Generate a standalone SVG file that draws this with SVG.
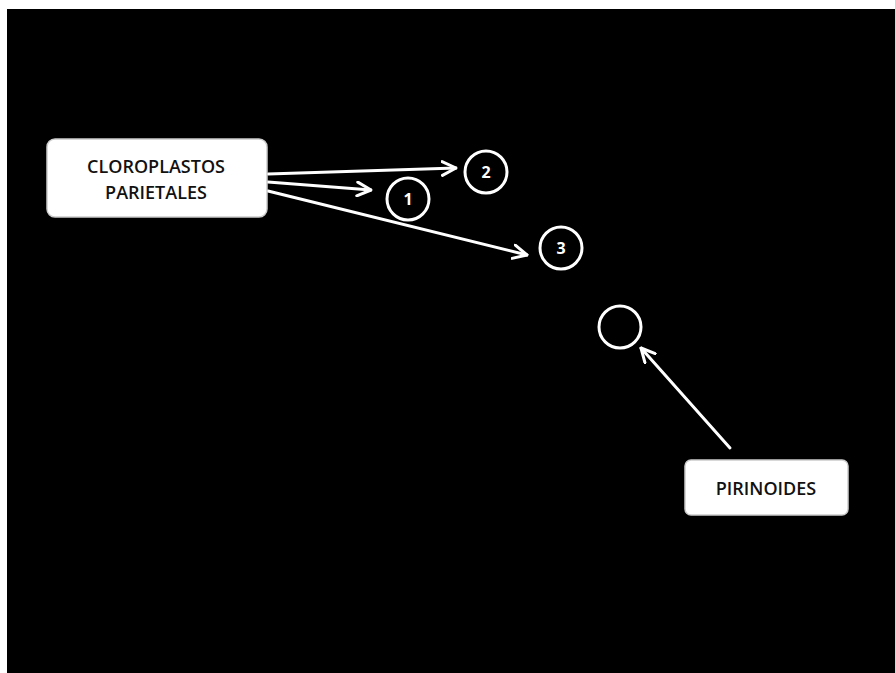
<svg xmlns="http://www.w3.org/2000/svg" width="895" height="673" viewBox="0 0 895 673">
<style>
.box{fill:#ffffff;stroke:#cccccc;stroke-width:1.5}
.lbl{font-family:"Open Sans","Liberation Sans",sans-serif;font-weight:600;font-size:18px;fill:#111;text-anchor:middle}
.ring{fill:none;stroke:#ffffff;stroke-width:3}
.num{font-family:"Open Sans","Liberation Sans",sans-serif;font-weight:700;font-size:16px;fill:#fff;text-anchor:middle}
.ln{stroke:#ffffff;stroke-width:3;fill:none;stroke-linecap:round}
</style>
<defs>
<marker id="ah" viewBox="0 0 12 12" refX="11" refY="6" markerWidth="5.5" markerHeight="5.5" orient="auto" markerUnits="strokeWidth">
<path d="M1,1 L11,6 L1,11" fill="none" stroke="#fff" stroke-width="2.2" stroke-linecap="round" stroke-linejoin="round"/>
</marker>
</defs>
<rect x="0" y="0" width="895" height="673" fill="#ffffff"/>
<rect x="7" y="9" width="888" height="664" fill="#000000"/>
<g id="connectors">
<line class="ln" x1="268" y1="174" x2="456" y2="168" marker-end="url(#ah)"/>
<line class="ln" x1="268" y1="182" x2="371" y2="190" marker-end="url(#ah)"/>
<line class="ln" x1="268" y1="191" x2="527" y2="255" marker-end="url(#ah)"/>
<line class="ln" x1="730" y1="448" x2="641" y2="348" marker-end="url(#ah)"/>
</g>
<g id="cloroplastos">
<rect class="box" x="47" y="139" width="220" height="78" rx="8"/>
<text class="lbl" x="156" y="173">CLOROPLASTOS</text>
<text class="lbl" x="156" y="199">PARIETALES</text>
</g>
<g id="c2">
<circle class="ring" cx="486" cy="172" r="21"/>
<text class="num" x="486" y="178">2</text>
</g>
<g id="c1">
<circle class="ring" cx="408" cy="199" r="21"/>
<text class="num" x="408" y="205">1</text>
</g>
<g id="c3">
<circle class="ring" cx="561" cy="248" r="21"/>
<text class="num" x="561" y="254">3</text>
</g>
<g id="c4">
<circle class="ring" cx="620" cy="327" r="21"/>
</g>
<g id="pirinoides">
<rect class="box" x="685" y="460" width="163" height="55" rx="6"/>
<text class="lbl" x="766" y="495">PIRINOIDES</text>
</g>
</svg>
